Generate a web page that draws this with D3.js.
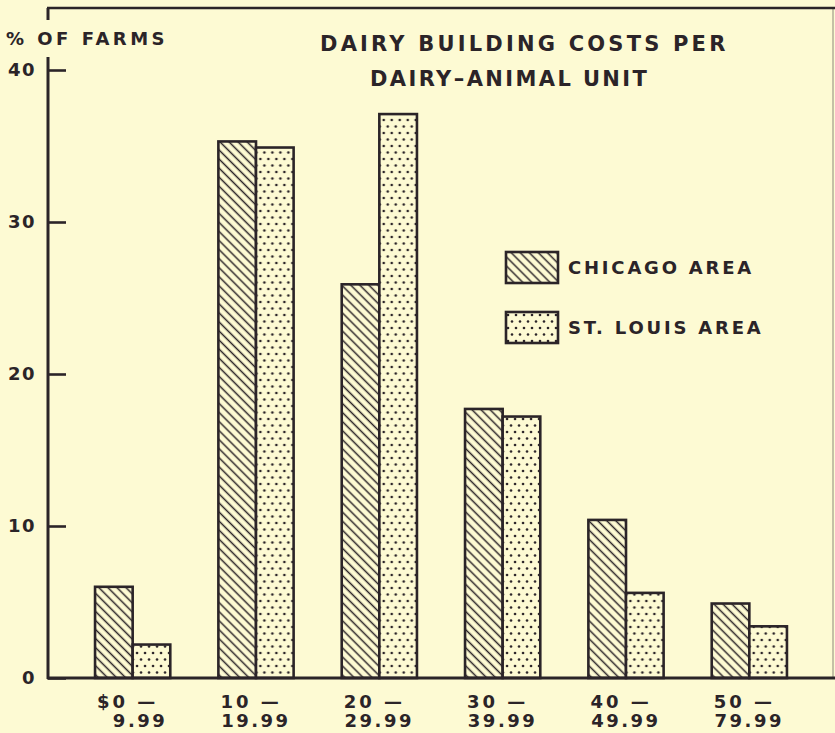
<!DOCTYPE html>
<html>
<head>
<meta charset="utf-8">
<script src="https://cdn.jsdelivr.net/npm/d3@7"></script>
<style>
  html, body { margin: 0; padding: 0; background: #fdfad3; }
  text { font-family: "DejaVu Sans", sans-serif; font-weight: bold; fill: #2b2428; }
</style>
</head>
<body>
<div id="main"></div>
<script>
// data
const categories = ["$0", "10", "20", "30", "40", "50"];
const rangeEnds = ["9.99", "19.99", "29.99", "39.99", "49.99", "79.99"];
const series = ["CHICAGO AREA", "ST. LOUIS AREA"];
const chicago = [6.0, 35.3, 25.9, 17.7, 10.4, 4.9];
const stLouis = [2.2, 34.9, 37.1, 17.2, 5.6, 3.4];
const yTicks = [0, 10, 20, 30, 40];

const width = 835, height = 733;
const ink = "#2b2428";
const bg = "#fdfad3";

const svg = d3.select("#main").append("svg")
  .attr("width", width)
  .attr("height", height)
  .style("display", "block")
  .style("background", bg);

// patterns
const defs = svg.append("defs");
const hatch = defs.append("pattern")
  .attr("id", "hatch")
  .attr("patternUnits", "userSpaceOnUse")
  .attr("width", 6.4).attr("height", 6.4)
  .attr("patternTransform", "rotate(-45)");
hatch.append("rect").attr("width", 6.4).attr("height", 6.4).attr("fill", bg);
hatch.append("line")
  .attr("x1", 3.2).attr("y1", 0).attr("x2", 3.2).attr("y2", 6.4)
  .attr("stroke", ink).attr("stroke-width", 1.5);

const dots = defs.append("pattern")
  .attr("id", "dots")
  .attr("patternUnits", "userSpaceOnUse")
  .attr("width", 8).attr("height", 13);
dots.append("rect").attr("width", 8).attr("height", 13).attr("fill", bg);
dots.append("circle").attr("cx", 2).attr("cy", 3).attr("r", 1.3).attr("fill", ink);
dots.append("circle").attr("cx", 6).attr("cy", 9.5).attr("r", 1.3).attr("fill", ink);

const fills = ["url(#hatch)", "url(#dots)"];

const dataset = categories.map((c, i) => ({ cat: c, vals: [chicago[i], stLouis[i]] }));

const x0 = d3.scaleBand()
  .domain(categories)
  .range([71, 811])
  .paddingInner(0.39)
  .paddingOuter(0.195);

const x1 = d3.scaleBand()
  .domain([0, 1])
  .range([0, x0.bandwidth()])
  .padding(0);

const y = d3.scaleLinear()
  .domain([0, 40])
  .range([678, 70]);

// bars
const groups = svg.append("g").selectAll("g")
  .data(dataset)
  .enter()
  .append("g")
  .attr("transform", d => `translate(${x0(d.cat)},0)`);

groups.selectAll("rect")
  .data(d => d.vals.map((v, k) => ({ k: k, v: v })))
  .enter()
  .append("rect")
  .attr("x", d => x1(d.k))
  .attr("y", d => y(d.v))
  .attr("width", x1.bandwidth())
  .attr("height", d => y(0) - y(d.v))
  .attr("fill", d => fills[d.k])
  .attr("stroke", ink)
  .attr("stroke-width", 2.6);

// y axis
const yAxis = d3.axisLeft(y)
  .tickValues(yTicks)
  .tickSizeInner(-18)
  .tickSizeOuter(0)
  .tickPadding(12);

svg.append("g")
  .attr("transform", "translate(48,0)")
  .call(yAxis)
  .call(g => g.select(".domain").remove())
  .call(g => g.selectAll(".tick line").attr("stroke", ink).attr("stroke-width", 2.6))
  .call(g => g.selectAll(".tick text")
    .attr("font-size", 18)
    .attr("letter-spacing", 1.5)
    .style("font-family", "DejaVu Sans")
    .style("font-weight", "bold")
    .attr("fill", ink));

// frame lines
svg.append("line")
  .attr("x1", 48).attr("y1", 57).attr("x2", 48).attr("y2", 679)
  .attr("stroke", ink).attr("stroke-width", 3);
svg.append("line")
  .attr("x1", 48).attr("y1", 8).attr("x2", 48).attr("y2", 20)
  .attr("stroke", ink).attr("stroke-width", 3);
svg.append("line")
  .attr("x1", 47).attr("y1", 8).attr("x2", 835).attr("y2", 8)
  .attr("stroke", ink).attr("stroke-width", 2.5);
svg.append("line")
  .attr("x1", 833).attr("y1", 8).attr("x2", 833).attr("y2", 678)
  .attr("stroke", ink).attr("stroke-width", 1.5)
  .attr("opacity", 0.35);
svg.append("line")
  .attr("x1", 47).attr("y1", 678).attr("x2", 835).attr("y2", 678)
  .attr("stroke", ink).attr("stroke-width", 3);

// x labels
const xl = svg.append("g").selectAll("g")
  .data(categories)
  .enter()
  .append("g");
xl.append("text")
  .attr("x", d => x0(d) + 2)
  .attr("y", 708)
  .attr("font-size", 18)
  .attr("letter-spacing", 3)
  .text(d => d + " \u2014");
xl.append("text")
  .attr("x", (d, i) => x0(d) + x0.bandwidth() - 3)
  .attr("y", 727)
  .attr("text-anchor", "end")
  .attr("font-size", 18)
  .attr("letter-spacing", 2.5)
  .text((d, i) => rangeEnds[i]);

// axis title
svg.append("text")
  .attr("x", 6).attr("y", 45)
  .attr("font-size", 18)
  .attr("letter-spacing", 3.5)
  .text("% OF FARMS");

// chart title
svg.append("text")
  .attr("x", 320).attr("y", 51)
  .attr("font-size", 21)
  .attr("letter-spacing", 3.2)
  .text("DAIRY BUILDING COSTS PER");
svg.append("text")
  .attr("x", 370).attr("y", 86)
  .attr("font-size", 21)
  .attr("letter-spacing", 2.4)
  .text("DAIRY\u2013ANIMAL UNIT");

// legend
const legend = svg.append("g").selectAll("g")
  .data(series)
  .enter()
  .append("g")
  .attr("transform", (d, i) => `translate(506,${252 + i * 60})`);
legend.append("rect")
  .attr("width", 52).attr("height", 31)
  .attr("fill", (d, i) => fills[i])
  .attr("stroke", ink)
  .attr("stroke-width", 2.6);
legend.append("text")
  .attr("x", 62).attr("y", 22)
  .attr("font-size", 18)
  .attr("letter-spacing", 2.8)
  .text(d => d);
</script>
</body>
</html>
